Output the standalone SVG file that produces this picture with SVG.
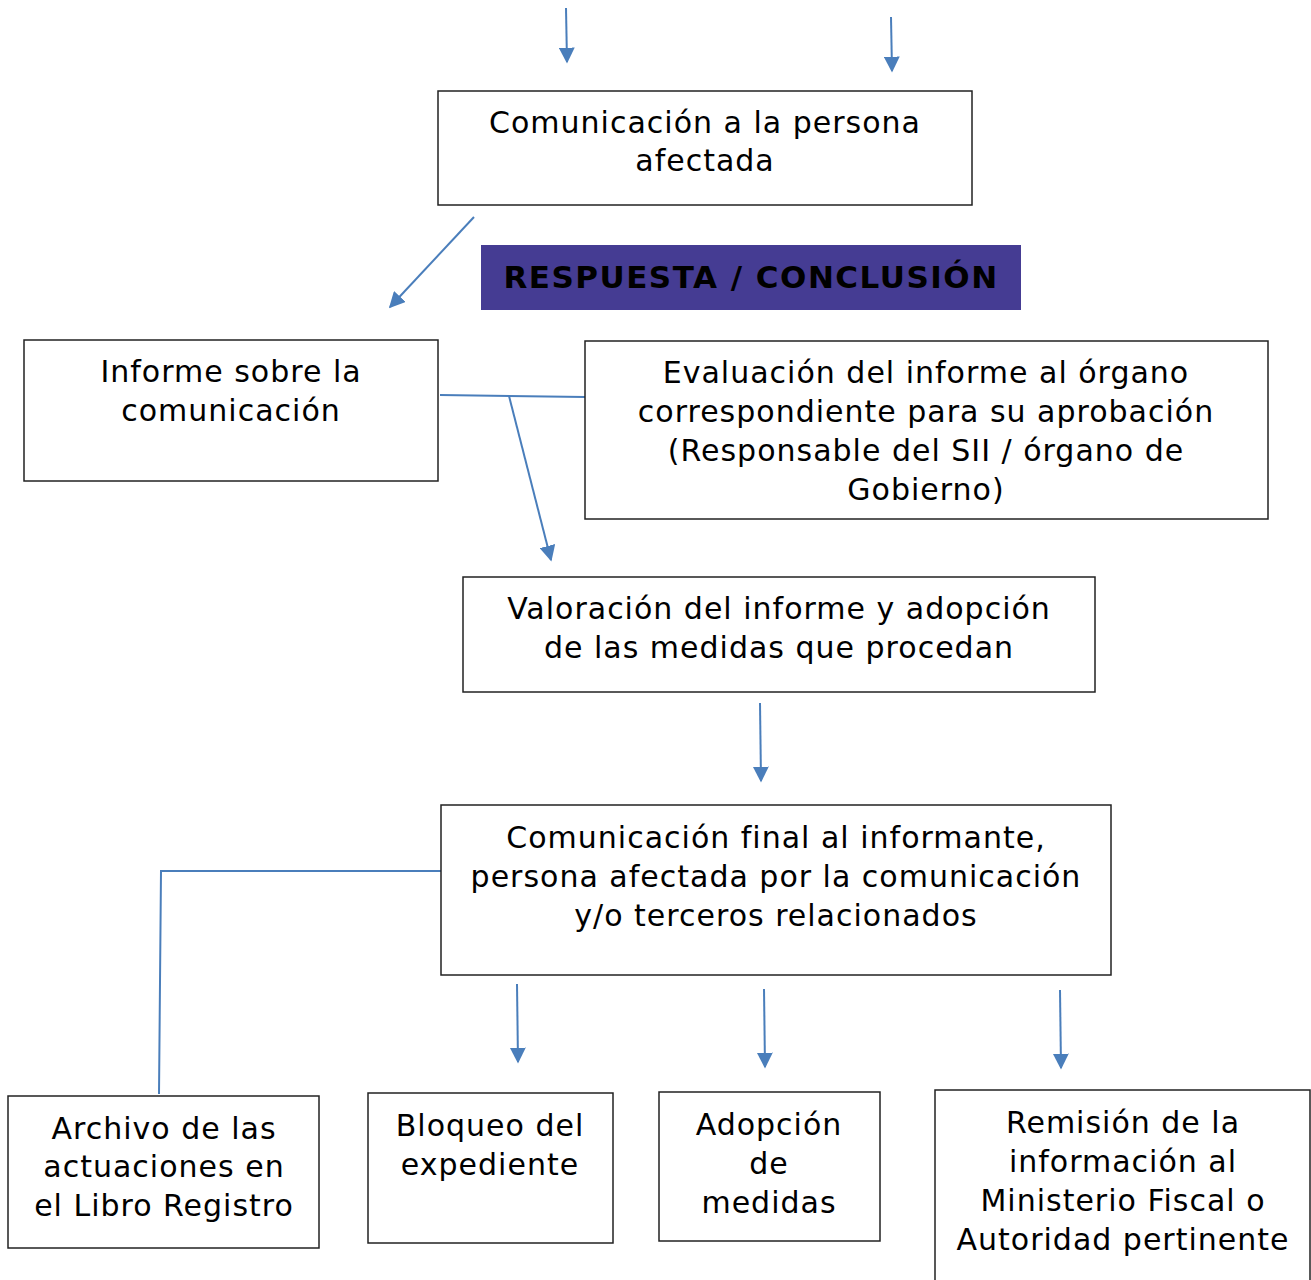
<svg xmlns="http://www.w3.org/2000/svg" width="1311" height="1280" viewBox="0 0 1311 1280">
<defs>
<marker id="ah" viewBox="0 0 10 10" refX="9" refY="5" markerWidth="8" markerHeight="8" orient="auto" markerUnits="strokeWidth">
<path d="M0,0 L10,5 L0,10 z" fill="#4A7EBB"/>
</marker>
<style>
.box{fill:#fff;stroke:#222;stroke-width:1.5}
.t{font-family:"DejaVu Sans",Verdana,sans-serif;font-size:30px;letter-spacing:1px;fill:#000;text-anchor:middle}
.c{fill:none;stroke:#4A7EBB;stroke-width:2}
.a{fill:none;stroke:#4A7EBB;stroke-width:2;marker-end:url(#ah)}
</style>
</defs>
<rect width="1311" height="1280" fill="#fff"/>
<g id="connectors">
<line class="a" x1="566" y1="8" x2="567" y2="62"/>
<line class="a" x1="891" y1="17" x2="892" y2="71"/>
<line class="a" x1="474" y1="217" x2="390" y2="307"/>
<line class="c" x1="440" y1="395" x2="585" y2="397"/>
<line class="a" x1="509" y1="396" x2="551" y2="560"/>
<line class="a" x1="760" y1="703" x2="761" y2="781"/>
<polyline class="c" points="441,871 161,871 159,1094"/>
<line class="a" x1="517" y1="984" x2="518" y2="1062"/>
<line class="a" x1="764" y1="989" x2="765" y2="1067"/>
<line class="a" x1="1060" y1="990" x2="1061" y2="1068"/>
</g>
<g id="n1">
<rect class="box" x="438" y="91" width="534" height="114"/>
<text class="t" x="705" y="133">Comunicación a la persona</text>
<text class="t" x="705" y="171">afectada</text>
</g>
<g id="banner">
<rect x="481" y="245" width="540" height="65" fill="#453C93"/>
<text x="751" y="288" font-family="DejaVu Sans,Verdana,sans-serif" font-weight="bold" font-size="31" letter-spacing="1.5" text-anchor="middle" fill="#000">RESPUESTA / CONCLUSIÓN</text>
</g>
<g id="n2">
<rect class="box" x="24" y="340" width="414" height="141"/>
<text class="t" x="231" y="382">Informe sobre la</text>
<text class="t" x="231" y="421">comunicación</text>
</g>
<g id="n3">
<rect class="box" x="585" y="341" width="683" height="178"/>
<text class="t" x="926" y="383">Evaluación del informe al órgano</text>
<text class="t" x="926" y="422">correspondiente para su aprobación</text>
<text class="t" x="926" y="461">(Responsable del SII / órgano de</text>
<text class="t" x="926" y="500">Gobierno)</text>
</g>
<g id="n4">
<rect class="box" x="463" y="577" width="632" height="115"/>
<text class="t" x="779" y="619">Valoración del informe y adopción</text>
<text class="t" x="779" y="658">de las medidas que procedan</text>
</g>
<g id="n5">
<rect class="box" x="441" y="805" width="670" height="170"/>
<text class="t" x="776" y="848">Comunicación final al informante,</text>
<text class="t" x="776" y="887">persona afectada por la comunicación</text>
<text class="t" x="776" y="926">y/o terceros relacionados</text>
</g>
<g id="n6">
<rect class="box" x="8" y="1096" width="311" height="152"/>
<text class="t" x="164" y="1139">Archivo de las</text>
<text class="t" x="164" y="1177">actuaciones en</text>
<text class="t" x="164" y="1216">el Libro Registro</text>
</g>
<g id="n7">
<rect class="box" x="368" y="1093" width="245" height="150"/>
<text class="t" x="490" y="1136">Bloqueo del</text>
<text class="t" x="490" y="1175">expediente</text>
</g>
<g id="n8">
<rect class="box" x="659" y="1092" width="221" height="149"/>
<text class="t" x="769" y="1135">Adopción</text>
<text class="t" x="769" y="1174">de</text>
<text class="t" x="769" y="1213">medidas</text>
</g>
<g id="n9">
<rect class="box" x="935" y="1090" width="375" height="200"/>
<text class="t" x="1123" y="1133">Remisión de la</text>
<text class="t" x="1123" y="1172">información al</text>
<text class="t" x="1123" y="1211">Ministerio Fiscal o</text>
<text class="t" x="1123" y="1250">Autoridad pertinente</text>
</g>
</svg>
